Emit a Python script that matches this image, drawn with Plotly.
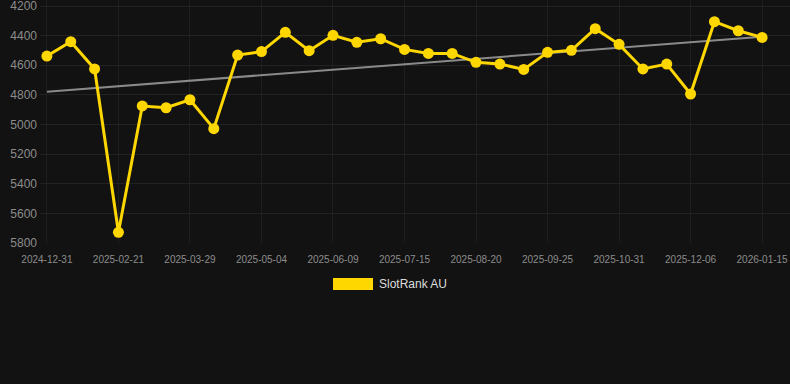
import numpy as np
import plotly.graph_objects as go

dates = ["2024-12-31", "2025-01-17", "2025-02-04", "2025-02-21", "2025-03-05",
         "2025-03-17", "2025-03-29", "2025-04-10", "2025-04-22", "2025-05-04",
         "2025-05-16", "2025-05-28", "2025-06-09", "2025-06-21", "2025-07-03",
         "2025-07-15", "2025-07-27", "2025-08-08", "2025-08-20", "2025-09-01",
         "2025-09-13", "2025-09-25", "2025-10-07", "2025-10-19", "2025-10-31",
         "2025-11-12", "2025-11-24", "2025-12-06", "2025-12-19", "2026-01-01",
         "2026-01-15"]
rank = [4538, 4441, 4625, 5728, 4875, 4887, 4833, 5028, 4531, 4508,
        4378, 4502, 4398, 4445, 4421, 4493, 4520, 4520, 4580, 4592,
        4628, 4513, 4499, 4353, 4459, 4625, 4592, 4794, 4306, 4367, 4412]
tick_labels = ["2024-12-31", "2025-02-21", "2025-03-29", "2025-05-04", "2025-06-09",
               "2025-07-15", "2025-08-20", "2025-09-25", "2025-10-31", "2025-12-06",
               "2026-01-15"]
y_ticks = [4200, 4400, 4600, 4800, 5000, 5200, 5400, 5600, 5800]

idx = np.arange(len(rank))
slope, intercept = np.polyfit(idx, rank, 1)
trend = slope * idx + intercept

fig = go.Figure()
fig.add_trace(go.Scatter(x=idx, y=trend, mode="lines",
                         line=dict(color="#8a8a8a", width=2),
                         hoverinfo="skip", showlegend=False))
fig.add_trace(go.Scatter(x=idx, y=rank, mode="lines+markers", name="SlotRank AU",
                         text=dates,
                         line=dict(color="#FFD700", width=3),
                         marker=dict(color="#FFD700", size=11),
                         showlegend=False))

tick_pos = [dates.index(t) for t in tick_labels]

# plot area: x 40..790, y 0..243 (4200 at y=6, 5800 at y=243)
top_val = 4200 - 6 * 1600 / 237

fig.update_layout(
    width=790, height=384,
    paper_bgcolor="#121212", plot_bgcolor="#121212",
    margin=dict(l=40, r=0, t=0, b=141),
    font=dict(family="Liberation Sans, Arial, sans-serif", color="#999999"),
    xaxis=dict(range=[-0.29, 31.17], tickvals=tick_pos, ticktext=tick_labels,
               showgrid=True, gridcolor="#1f1f1f", gridwidth=1,
               zeroline=False, showline=False, ticks="",
               ticklabelstandoff=9,
               tickfont=dict(size=10, color="#8c8c8c")),
    yaxis=dict(range=[5800, top_val], tickvals=y_ticks,
               showgrid=True, gridcolor="#222222", gridwidth=1,
               zeroline=False, showline=False, ticks="",
               ticklabelstandoff=2, ticklabeloverflow="allow",
               tickfont=dict(size=12, color="#8c8c8c")),
    shapes=[dict(type="rect", xref="paper", yref="paper",
                 x0=(333 - 40) / 750, x1=(373 - 40) / 750,
                 y0=(243 - 290) / 243, y1=(243 - 278) / 243,
                 fillcolor="#FFD700", line=dict(width=0))],
    annotations=[dict(text="SlotRank AU", xref="paper", yref="paper",
                      x=(377 - 40) / 750, y=(243 - 284) / 243,
                      xanchor="left", yanchor="middle", showarrow=False,
                      font=dict(size=12, color="#dddddd"))],
)

fig.write_html("out.html", config={"displayModeBar": False},
               post_script="document.body.style.margin='0';document.body.style.background='#121212';")
